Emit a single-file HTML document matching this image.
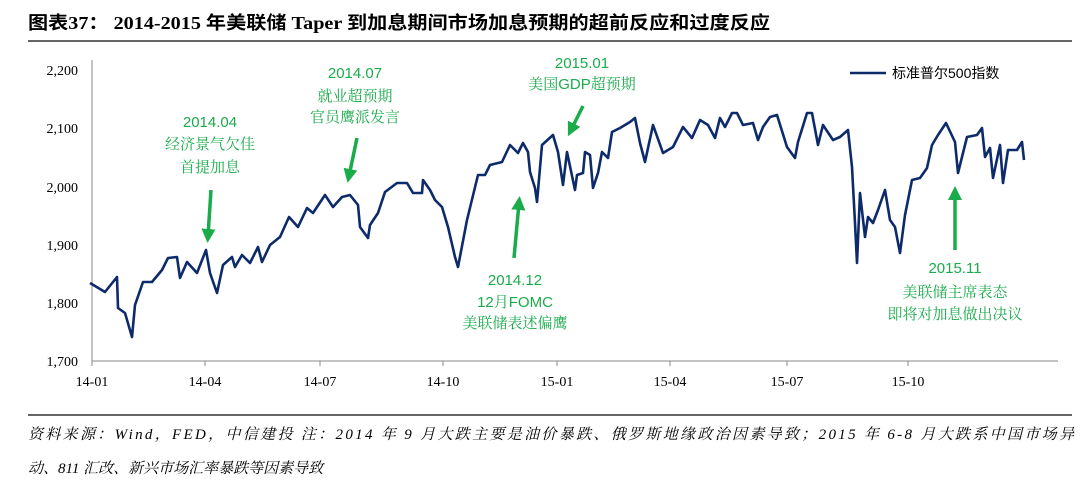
<!DOCTYPE html>
<html><head><meta charset="utf-8"><style>
body{margin:0;background:#fff;width:1080px;height:486px;overflow:hidden;font-family:"Liberation Serif","Noto Serif CJK SC",serif}
</style></head><body>
<svg width="1080" height="486" xmlns="http://www.w3.org/2000/svg">
<text x="28" y="29" font-size="18" font-weight="bold" font-family="Liberation Serif,Noto Sans CJK SC,sans-serif" fill="#000" textLength="742" lengthAdjust="spacingAndGlyphs">图表37：  2014-2015 年美联储 Taper 到加息期间市场加息预期的超前反应和过度反应</text>
<line x1="28" y1="41" x2="1072" y2="41" stroke="#333" stroke-width="1.5"/>
<g font-family="Liberation Serif,serif" font-size="14" fill="#000" text-anchor="end">
<text x="78" y="75">2,200</text><text x="78" y="133">2,100</text><text x="78" y="192">2,000</text>
<text x="78" y="250">1,900</text><text x="78" y="308">1,800</text><text x="78" y="366">1,700</text>
</g>
<line x1="92" y1="60" x2="92" y2="361" stroke="#888" stroke-width="1"/>
<line x1="92" y1="361" x2="1058" y2="361" stroke="#888" stroke-width="1"/>
<g stroke="#888"><line x1="92" y1="361" x2="92" y2="366"/><line x1="205" y1="361" x2="205" y2="366"/><line x1="320" y1="361" x2="320" y2="366"/><line x1="443" y1="361" x2="443" y2="366"/><line x1="557" y1="361" x2="557" y2="366"/><line x1="670" y1="361" x2="670" y2="366"/><line x1="787" y1="361" x2="787" y2="366"/><line x1="908" y1="361" x2="908" y2="366"/></g>
<g font-family="Liberation Serif,serif" font-size="14" fill="#000" text-anchor="middle">
<text x="92" y="386">14-01</text><text x="205" y="386">14-04</text><text x="320" y="386">14-07</text><text x="443" y="386">14-10</text><text x="557" y="386">15-01</text><text x="670" y="386">15-04</text><text x="787" y="386">15-07</text><text x="908" y="386">15-10</text>
</g>
<polyline fill="none" stroke="#0d2a6b" stroke-width="2.6" stroke-linejoin="round" points="90,283 105,292 117,277 118,308 125,313 132,337 135,305 143,282 152,282 162,270 168,258 177,257 180,278 187,262 197,273 206,250 210,273 217,293 223,265 232,257 235,267 242,255 250,263 258,247 262,262 270,245 280,237 289,217 298,227 307,208 313,213 325,195 333,207 342,197 350,195 358,205 360,227 368,238 370,225 378,213 385,192 397,183 407,183 413,193 422,193 423,180 430,190 435,200 442,207 448,227 455,257 458,267 467,220 478,175 485,175 490,165 502,162 510,145 518,153 523,143 528,152 530,172 535,188 537,202 542,145 553,135 558,152 563,185 567,152 575,190 577,175 583,173 585,152 590,155 593,188 598,173 602,152 608,158 612,132 620,128 630,122 635,118 640,143 645,162 653,125 663,153 673,147 683,127 692,138 700,120 708,125 715,138 720,118 725,127 732,113 737,113 743,125 753,123 758,140 763,127 770,117 777,115 787,147 795,158 798,142 807,113 812,113 818,145 823,125 833,140 840,137 848,130 852,167 855,223 857,263 860,193 865,237 868,217 873,223 878,210 885,190 890,220 895,227 900,253 905,215 912,180 920,178 927,168 932,145 938,135 946,123 955,142 958,173 967,137 977,135 982,128 985,157 990,148 993,178 1000,145 1003,183 1008,150 1017,150 1022,142 1024,160"/>
<line x1="850" y1="73" x2="886" y2="73" stroke="#0d2a6b" stroke-width="2.6"/>
<text x="892" y="78" font-size="14" font-family="Liberation Sans,Noto Sans CJK SC,sans-serif" fill="#000">标准普尔500指数</text>
<g font-family="Liberation Sans,Noto Serif CJK SC,sans-serif" font-size="15" fill="#1aab4b" text-anchor="middle">
<text x="355" y="78">2014.07</text><text x="355" y="101">就业超预期</text><text x="355" y="122">官员鹰派发言</text>
<text x="210" y="127">2014.04</text><text x="210" y="149">经济景气欠佳</text><text x="210" y="172">首提加息</text>
<text x="582" y="68">2015.01</text><text x="582" y="89">美国GDP超预期</text>
<text x="515" y="285">2014.12</text><text x="515" y="307">12月FOMC</text><text x="515" y="328">美联储表述偏鹰</text>
<text x="955" y="273">2015.11</text><text x="955" y="297">美联储主席表态</text><text x="955" y="319">即将对加息做出决议</text>
</g>
<defs><marker id="a" markerWidth="4" markerHeight="4" refX="2" refY="2" orient="auto"><path d="M0,0 L4,2 L0,4z" fill="#1aab4b"/></marker></defs>
<g stroke="#1aab4b" stroke-width="3.5" marker-end="url(#a)">
<line x1="211" y1="190" x2="208" y2="236"/>
<line x1="357" y1="138" x2="349" y2="176"/>
<line x1="583" y1="106" x2="571" y2="130"/>
<line x1="514" y1="258" x2="519" y2="203"/>
<line x1="955" y1="250" x2="955" y2="193"/>
</g>
<line x1="28" y1="415" x2="1072" y2="415" stroke="#333" stroke-width="1.5"/>
<g font-family="Liberation Serif,Noto Serif CJK SC,serif" font-size="15" font-style="italic" fill="#000">
<text x="28" y="439" textLength="1046" lengthAdjust="spacing">资料来源：Wind，FED，中信建投   注：2014 年 9 月大跌主要是油价暴跌、俄罗斯地缘政治因素导致；2015 年 6-8 月大跌系中国市场异</text>
<text x="28" y="473">动、811 汇改、新兴市场汇率暴跌等因素导致</text>
</g>
</svg>
</body></html>
